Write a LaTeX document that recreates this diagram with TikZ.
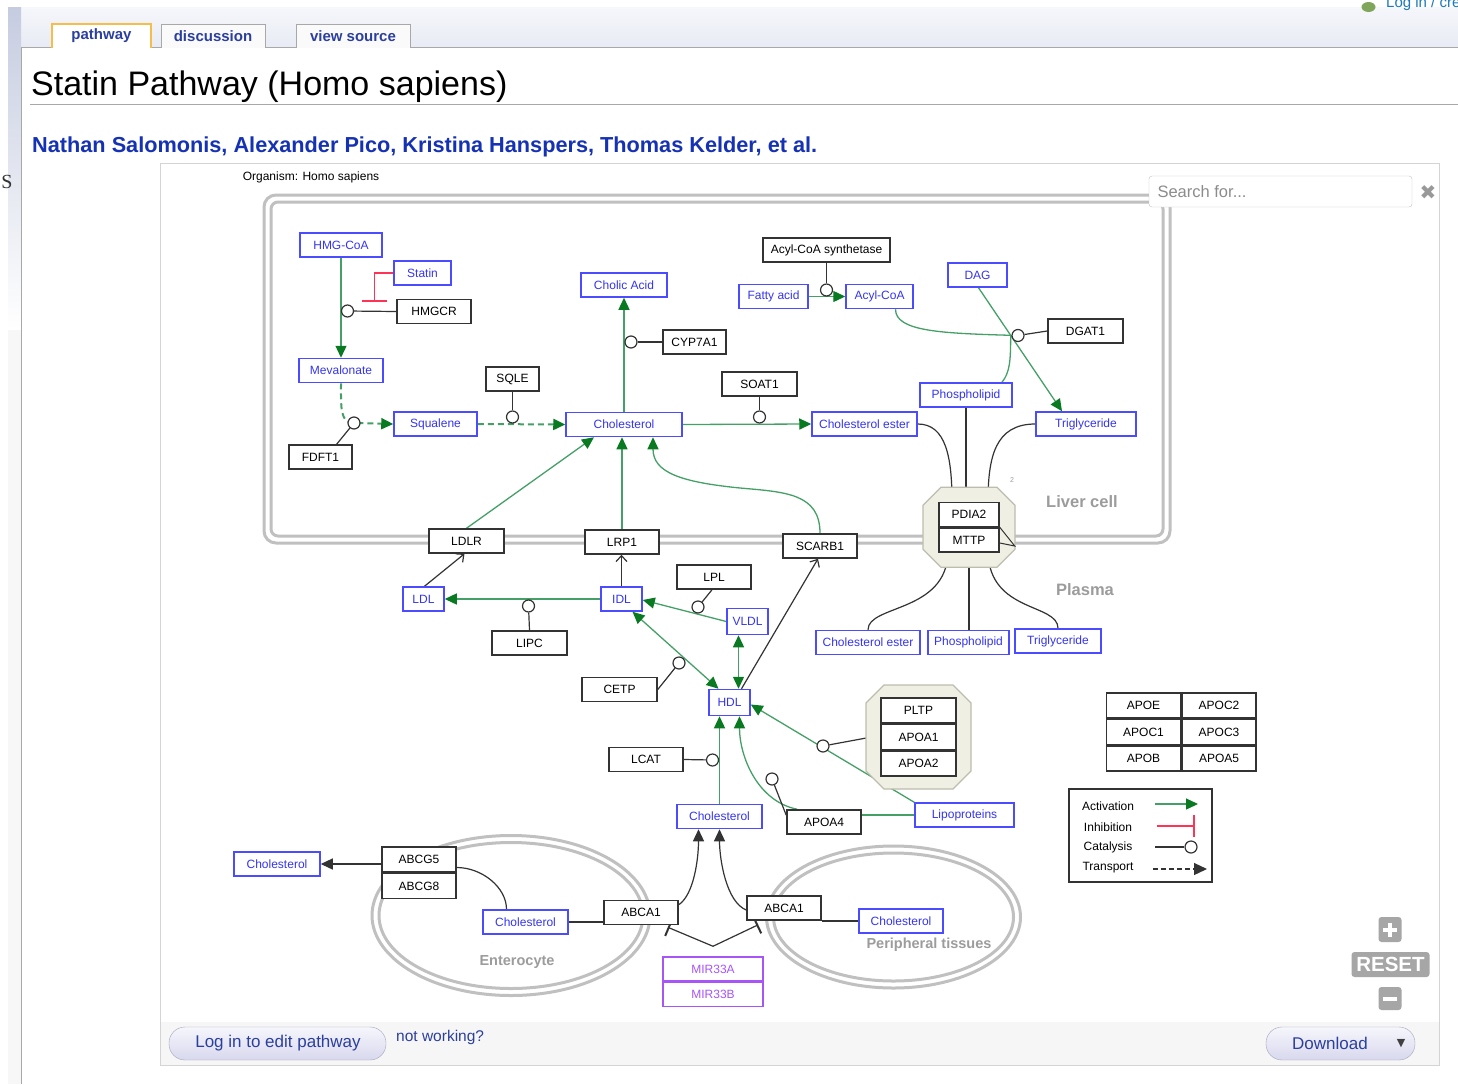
\documentclass[tikz,border=0pt]{standalone}
\usepackage{fontspec}
\setmainfont{Liberation Sans}
\newfontfamily\symfont{DejaVu Sans}
\newfontfamily\logofont{Liberation Serif}
\usetikzlibrary{arrows.meta,positioning,calc,backgrounds}
\definecolor{pwblue}{HTML}{4B4BFF}
\definecolor{pwtext}{HTML}{3535EE}
\definecolor{pwgene}{HTML}{333333}
\definecolor{pwline}{HTML}{45A067}
\definecolor{pwhead}{HTML}{0A7A22}
\definecolor{pwred}{HTML}{FF3355}
\definecolor{pwmir}{HTML}{A855F7}
\definecolor{pwcomp}{HTML}{C0C0C0}
\definecolor{pwcplx}{HTML}{EFEFE4}
\definecolor{pwcplxline}{HTML}{BDBDAE}
\definecolor{pwlabel}{HTML}{9C9C9C}
\definecolor{wikilink}{HTML}{2B3F9E}
\definecolor{wikiauth}{HTML}{1632B4}
\definecolor{wikiline}{HTML}{A8A8A8}
\definecolor{wikitab}{HTML}{F5BE4A}
\definecolor{wikitabbg}{HTML}{FAFAFA}
\definecolor{wikibar}{HTML}{E8EBF4}
\definecolor{wikibartop}{HTML}{F6F7FB}
\definecolor{wikiside}{HTML}{C6CCE0}
\definecolor{panelline}{HTML}{D4D4D4}
\definecolor{panelfoot}{HTML}{F6F6F6}
\definecolor{searchline}{HTML}{C4C4C4}
\definecolor{btngray}{HTML}{A6A6A6}
\definecolor{btnline}{HTML}{A4A4BC}
\definecolor{btntop}{HTML}{F6F6FC}
\definecolor{btnlav}{HTML}{D8D8EE}
\definecolor{iconcol}{HTML}{7FA65A}
\pgfdeclarelayer{edges}
\pgfdeclarelayer{cplxbg}
\pgfsetlayers{background,edges,cplxbg,main}
\newcommand\pwfont[1]{\fontsize{#1}{#1}\selectfont}
% octagon around a complex: half width, half height, chamfer
\newcommand\octa[3]{%
  \filldraw[cplx] (-#1+#3,-#2) -- (#1-#3,-#2) -- (#1,-#2+#3) -- (#1,#2-#3)
    -- (#1-#3,#2) -- (-#1+#3,#2) -- (-#1,#2-#3) -- (-#1,-#2+#3) -- cycle;}
\tikzset{
  met/.style={draw=pwblue, fill=white, line width=1.5pt, text=pwtext, font=\pwfont{12}, minimum height=24pt, inner sep=0pt},
  gene/.style={draw=pwgene, fill=white, line width=1.5pt, text=black, font=\pwfont{12}, minimum height=24pt, minimum width=74pt, inner sep=0pt},
  mirna/.style={draw=pwmir, fill=white, line width=1.5pt, text=pwmir, font=\pwfont{12}, minimum height=24pt, minimum width=100pt, inner sep=0pt},
  cat/.style={circle, draw=pwgene, fill=white, line width=1.2pt, minimum size=12pt, inner sep=0pt},
  cplx/.style={draw=pwcplxline, fill=pwcplx, line width=1.2pt},
  edge/.style={draw=pwline, line width=1.3pt},
  act/.style={edge, -{Triangle[length=12pt,width=11pt,color=pwhead]}},
  actb/.style={edge, {Triangle[length=12pt,width=11pt,color=pwhead]}-{Triangle[length=12pt,width=11pt,color=pwhead]}},
  trn/.style={act, line width=2pt, dash pattern=on 6pt off 4pt},
  mim/.style={draw=pwgene, line width=1.2pt},
  conv/.style={mim, -{Straight Barb[length=6pt,width=11pt]}},
  pt/.style={mim, -{Triangle[length=12pt,width=11pt]}},
  inh/.style={draw=pwred, line width=1.5pt, -{Bar[width=25pt,line width=2.5pt]}},
  mirinh/.style={mim, -{Bar[width=18pt,line width=2pt]}},
  comp/.style={draw=pwcomp, line width=3pt},
  clabel/.style={text=pwlabel, font=\bfseries\pwfont{16.5}},
  tab/.style={font=\bfseries\pwfont{15}, text=wikilink},
}

\begin{document}
\begin{tikzpicture}[x=1pt,y=-1pt]
\useasboundingbox (0,0) rectangle (1458,1084);

% page frame
\begin{pgfonlayer}{background}
  \fill[white] (0,0) rectangle (1458,1084);
  \shade[top color=wikibartop, bottom color=wikibar] (8,7) rectangle (1458,47);
  \shade[top color=wikiside, bottom color=white] (8,7) rectangle (21,330);
  \fill[black!3] (8,330) rectangle (21,1084);
  \fill[white] (21.5,47.5) rectangle (1458,1084);
  \draw[wikiline] (21,47.5) -- (1458,47.5);
  \draw[wikiline] (21.5,47.5) -- (21.5,1084);
  \fill[white] (52.5,24) rectangle (150.5,48.5);
  \draw[wikitab, line width=1.2pt] (52,47.5) |- (151,24) -- (151,47.5);
  \filldraw[fill=wikitabbg, draw=wikiline] (161,47.5) |- (265,24) -- (265,47.5);
  \filldraw[fill=wikitabbg, draw=wikiline] (296,47.5) |- (410,24) -- (410,47.5);
  \draw[wikiline] (30,104) -- (1458,104);
  \filldraw[fill=white, draw=panelline] (160,163.5) rectangle (1439.5,1065.5);
  \fill[panelfoot] (160.5,1022) rectangle (1439,1065);
  % compartments
  \draw[comp, rounded corners=12pt] (264,195) rectangle (1170,543);
  \draw[comp, rounded corners=7pt] (271,202) rectangle (1163,536);
  \draw[comp] (511,915.5) ellipse [x radius=139pt, y radius=80pt];
  \draw[comp] (511,915.5) ellipse [x radius=132pt, y radius=73pt];
  \draw[comp] (893.5,917) ellipse [x radius=127pt, y radius=71pt];
  \draw[comp] (893.5,917) ellipse [x radius=120pt, y radius=64pt];
\end{pgfonlayer}

\fill[iconcol] (1368.5,7) ellipse [x radius=7pt, y radius=5pt];
\node[anchor=base west, font=\pwfont{15}, text=wikilink!70!cyan, inner sep=0pt] (login-top) at (1386,8) {Log in / create account};
\node[font=\logofont\pwfont{20}, text=black!80] (logo-s) at (7,182) {S};
\node[tab] (tab-pw) at (101.5,36) {pathway};
\node[tab] (tab-disc) at (213,36) {discussion};
\node[tab] (tab-src) at (353,36) {view source};
\node[anchor=base west, font=\pwfont{34}, inner sep=0pt] (title) at (31,95) {Statin Pathway (Homo sapiens)};
\node[anchor=base west, font=\bfseries\pwfont{21.7}, text=wikiauth, inner sep=0pt] (authors) at (32,152)
  {Nathan Salomonis, Alexander Pico, Kristina Hanspers, Thomas Kelder, et al.};
\node[font=\pwfont{12}] (organism) at (311,177) {Organism: Homo sapiens};

\node[draw=searchline, fill=white, rounded corners=3pt, minimum width=263pt, minimum height=31pt, inner sep=0pt] (search) at (1280.5,191.5) {};
\node[anchor=west, font=\pwfont{16.5}, text=black!45] (search-txt) at (1154,192) {Search for...};
\node[font=\symfont\pwfont{20}, text=black!40] (search-x) at (1428,193) {✖};

% liver cell
\node[met, minimum width=82pt] (hmgcoa) at (341,245) {HMG-CoA};
\node[met, minimum width=57pt] (statin) at (422.5,273) {Statin};
\node[gene] (hmgcr) at (434,311.5) {HMGCR};
\node[met, minimum width=84pt] (meval) at (341,370.5) {Mevalonate};
\node[gene, minimum width=63pt] (fdft) at (320.5,457) {FDFT1};
\node[met, minimum width=83pt] (squal) at (435.5,424) {Squalene};
\node[gene, minimum width=53pt] (sqle) at (512.5,379) {SQLE};
\node[met, minimum width=116pt] (chol1) at (624,424.5) {Cholesterol};
\node[met, minimum width=86pt] (cholic) at (624,285) {Cholic Acid};
\node[gene, minimum width=63pt] (cyp) at (694.5,342) {CYP7A1};
\node[gene, minimum width=75pt] (soat) at (759.5,384) {SOAT1};
\node[gene, minimum width=127pt] (acs) at (826.5,250) {Acyl-CoA synthetase};
\node[met, minimum width=69pt] (fatty) at (773.5,296.5) {Fatty acid};
\node[met, minimum width=67pt] (acyl) at (879.5,296.5) {Acyl-CoA};
\node[met, minimum width=59pt] (dag) at (977.5,275) {DAG};
\node[gene, minimum width=75pt] (dgat) at (1085.5,331) {DGAT1};
\node[met, minimum width=92pt] (pl1) at (966,395) {Phospholipid};
\node[met, minimum width=105pt] (ce1) at (864.5,424) {Cholesterol ester};
\node[met, minimum width=100pt] (tg1) at (1086,424) {Triglyceride};
\node[gene, minimum width=60pt] (pdia) at (969,514.5) {PDIA2};
\node[gene, minimum width=60pt, below=0pt of pdia] (mttp) {MTTP};

% plasma
\node[met, minimum width=104pt] (ce2) at (868,642.5) {Cholesterol ester};
\node[met, minimum width=81pt] (pl2) at (968.5,642.5) {Phospholipid};
\node[met, minimum width=86pt] (tg2) at (1058,641) {Triglyceride};
\node[gene, minimum width=75pt] (ldlr) at (466.5,541) {LDLR};
\node[gene] (lrp) at (622,542) {LRP1};
\node[gene] (scarb) at (820,546) {SCARB1};
\node[met, minimum width=41pt] (ldl) at (423.5,599) {LDL};
\node[met, minimum width=41pt] (idl) at (621.5,599) {IDL};
\node[gene] (lpl) at (714,577) {LPL};
\node[gene, minimum width=75pt] (lipc) at (529.5,643) {LIPC};
\node[met, minimum width=41pt, minimum height=26pt] (vldl) at (747.5,621.5) {VLDL};
\node[gene, minimum width=75pt] (cetp) at (619.5,689.5) {CETP};
\node[met, minimum width=41pt, minimum height=26pt] (hdl) at (729.5,702.5) {HDL};
\node[gene] (lcat) at (646,759.5) {LCAT};
\node[gene, minimum width=75pt, minimum height=25pt] (pltp) at (918.5,710.5) {PLTP};
\node[gene, minimum width=75pt, minimum height=25pt, below=0pt of pltp] (apoa1) {APOA1};
\node[gene, minimum width=75pt, minimum height=25pt, below=0pt of apoa1] (apoa2) {APOA2};
\node[met, minimum width=85pt] (chol3) at (719.5,816.5) {Cholesterol};
\node[gene] (apoa4) at (824,822) {APOA4};
\node[met, minimum width=99pt] (lipo) at (964.5,815) {Lipoproteins};

% enterocyte and peripheral tissues
\node[met, minimum width=86pt] (chol0) at (277,864) {Cholesterol};
\node[gene, minimum height=25pt] (abcg5) at (419,859.5) {ABCG5};
\node[gene, minimum height=25pt, below=0pt of abcg5] (abcg8) {ABCG8};
\node[met, minimum width=85pt] (chol2) at (525.5,922) {Cholesterol};
\node[gene] (abcaa) at (641,912.5) {ABCA1};
\node[gene] (abcab) at (784,908) {ABCA1};
\node[met, minimum width=84pt] (chol4) at (901,921) {Cholesterol};
\node[mirna] (mira) at (713,969) {MIR33A};
\node[mirna, below=0pt of mira] (mirb) {MIR33B};

\node[clabel] (liver-lbl) at (1082,502) {Liver cell};
\node[clabel] (plasma-lbl) at (1085,590) {Plasma};
\node[clabel, font=\bfseries\pwfont{14.5}] (entero-lbl) at (517,962) {Enterocyte};
\node[clabel, font=\bfseries\pwfont{14.5}] (periph-lbl) at (929,945) {Peripheral tissues};
\node[text=pwlabel, font=\pwfont{7}] (liver-num) at (1012,480) {2};

% apolipoprotein table
\node[gene, minimum height=25pt] (apoe) at (1143.5,705.5) {APOE};
\node[gene, minimum height=25pt, right=0pt of apoe] (apoc2) {APOC2};
\node[gene, minimum height=25pt, below=0pt of apoe] (apoc1) {APOC1};
\node[gene, minimum height=25pt, right=0pt of apoc1] (apoc3) {APOC3};
\node[gene, minimum height=25pt, below=0pt of apoc1] (apob) {APOB};
\node[gene, minimum height=25pt, right=0pt of apob] (apoa5) {APOA5};

% catalysis anchors
\node[cat] (c-hmgcr) at (347.5,311) {};
\node[cat] (c-fdft) at (354,423) {};
\node[cat] (c-sqle) at (512.5,417) {};
\node[cat] (c-cyp) at (631,342) {};
\node[cat] (c-soat) at (759.5,417) {};
\node[cat] (c-acs) at (826.5,290) {};
\node[cat] (c-dgat) at (1018,335.5) {};
\node[cat] (c-lipc) at (528.5,606) {};
\node[cat] (c-lpl) at (698,607) {};
\node[cat] (c-cetp) at (679,663) {};
\node[cat] (c-lcat) at (712.5,760) {};
\node[cat] (c-pltp) at (823,746) {};
\node[cat] (c-apoa4) at (772,779) {};

\begin{pgfonlayer}{cplxbg}
  \begin{scope}[shift={(apoa1.center)}]\octa{52.5}{52}{18}\end{scope}
  \begin{scope}[shift={(pdia.south)}]\octa{46}{40}{18}\end{scope}
\end{pgfonlayer}

\coordinate (hmgcr-inh) at (374.5,302);
\coordinate (dag-out) at ($(dag.south)+(1,0)$);
\coordinate (tg-in) at ($(tg1.north)+(-24,0)$);
\coordinate (dgat-j) at ($(dag-out)!0.385!(tg-in)$);
\coordinate (scarb-via) at (740,488);
\coordinate (hdl-v) at ($(hdl.north)+(9,0)$);
\coordinate (pltp-in) at ($(apoa1.west)+(-14,1)$);
\coordinate (mir-j) at ($(mira.north)+(0,-10)$);
\coordinate (mir-l) at ($(abcaa.south east)+(-11,2)$);
\coordinate (mir-r) at ($(abcab.south west)+(12,4)$);

\begin{pgfonlayer}{edges}
  \draw[act] (hmgcoa.south) -- (meval.north);
  \draw[mim] (hmgcr.west) -- (c-hmgcr);
  \draw[inh] (statin.west) -| (hmgcr-inh);
  \draw[trn] (meval.south) .. controls +(0,25) and +(-14,0) .. (c-fdft.center) -- (squal.west);
  \draw[mim] ($(fdft.north)!0.5!(fdft.north east)$) -- (c-fdft);
  \draw[trn] (squal.east) -- (chol1.west);
  \draw[mim] (sqle.south) -- (c-sqle);
  \draw[act] (chol1.north) -- (cholic.south);
  \draw[mim] (cyp.west) -- (c-cyp);
  \draw[act] (chol1.east) -- (ce1.west);
  \draw[mim] (soat.south) -- (c-soat);
  \draw[act] (fatty.east) -- (acyl.west);
  \draw[mim] (acs.south) -- (c-acs);
  \draw[act] (dag-out) -- (tg-in);
  \draw[edge] ($(acyl.south)+(16,0)$) .. controls +(0,22) and +(-70,-2) .. (dgat-j);
  \draw[edge] ($(pl1.north)+(36,0)$) .. controls +(8,-10) and +(0,25) .. (dgat-j);
  \draw[mim] (dgat.west) -- (c-dgat);
  % MTTP loading
  \draw[mim] (ce1.east) .. controls +(28,0) and +(0,-45) .. ($(pdia.north)+(-17,0)$);
  \draw[mim] (pl1.south) -- (pl1.south |- pdia.north);
  \draw[mim] (tg1.west) .. controls +(-40,0) and +(0,-45) .. ($(pdia.north)+(19,0)$);
  \draw[mim] ($(mttp.south)+(-21,0)$) .. controls +(-2,60) and +(0,-25) .. (ce2.north);
  \draw[mim] (mttp.south) -- (mttp.south |- pl2.north);
  \draw[mim] ($(mttp.south)+(19,0)$) .. controls +(2,60) and +(0,-25) .. (tg2.north);
  % uptake into the liver
  \draw[act] (ldlr.north) -- ($(chol1.south)+(-30,0)$);
  \draw[act] (lrp.north) -- (lrp.north |- chol1.south);
  \draw[act] (scarb.north) .. controls +(0,-40) and +(45,4) .. (scarb-via)
    .. controls +(-60,-6) and +(0,35) .. ($(chol1.south)+(29,0)$);
  \draw[conv] ($(ldl.north)+(1,0)$) -- ($(ldlr.south)+(-2,0)$);
  \draw[conv] (idl.north) -- (idl.north |- lrp.south);
  \draw[conv] ($(hdl.north)+(12,0)$) -- ($(scarb.south)+(-2,0)$);
  % lipoprotein conversions
  \draw[act] (idl.west) -- (ldl.east);
  \draw[mim] (lipc.north) -- (c-lipc);
  \draw[act] (vldl.west) -- ($(idl.east)+(0,1)$);
  \draw[mim] ($(lpl.south)+(-2,0)$) -- (c-lpl);
  \draw[actb] ($(idl.south)+(11,0)$) -- ($(hdl.north)+(-11,0)$);
  \draw[mim] (cetp.east) -- (c-cetp);
  \draw[actb] (hdl-v) -- (hdl-v |- vldl.south);
  \draw[act] (chol3.north) -- (chol3.north |- hdl.south);
  \draw[mim] (lcat.east) -- (c-lcat);
  \draw[act] (lipo.north west) -- ($(hdl.east)+(0,2)$);
  \draw[mim] (pltp-in) -- (c-pltp);
  \draw[edge] (lipo.west) -- (lipo.west -| apoa4.east);
  \draw[act] ($(apoa4.north west)+(11,0)$) .. controls +(-40,-8) and +(0,40) .. ($(hdl.south)+(10,0)$);
  \draw[mim] ($(apoa4.north west)+(0,6)$) -- (c-apoa4);
  % cholesterol efflux
  \draw[pt] (abcg5.west |- chol0.east) -- (chol0.east);
  \draw[mim] ($(chol2.north)+(-19,0)$) .. controls +(0,-22) and +(25,0) .. ($(abcg5.east)+(0,8)$);
  \draw[mim] (chol2.east) -- (chol2.east -| abcaa.west);
  \draw[mim] (abcab.east |- chol4.west) -- (chol4.west);
  \draw[pt] ($(abcaa.north east)+(0,5)$) .. controls +(15,-10) and +(0,30) .. ($(chol3.south)+(-21,0)$);
  \draw[pt] ($(abcab.west)+(0,2)$) .. controls +(-20,-8) and +(0,30) .. (chol3.south);
  \draw[mirinh] (mir-j) -- (mir-l);
  \draw[mirinh] (mir-j) -- (mir-r);
\end{pgfonlayer}
\draw[mim, line width=1pt] (mttp.north east) -- ($(mttp.east)+(15,6)$) -- ($(mttp.east)+(0,3)$);

% legend
\node[draw=pwgene, line width=1.5pt, minimum width=143pt, minimum height=93pt] (legend) at (1140.5,835.5) {};
\node[font=\pwfont{12}] (lg-act) at (1108,806) {Activation};
\node[font=\pwfont{12}] (lg-inh) at (1108,827) {Inhibition};
\node[font=\pwfont{12}] (lg-cat) at (1108,847) {Catalysis};
\node[font=\pwfont{12}] (lg-trn) at (1108,868) {Transport};
\draw[act] (1155,804) -- (1198,804);
\draw[draw=pwred, line width=1.5pt, -{Bar[width=22pt,line width=2pt]}] (1157,826) -- (1195,826);
\node[cat] (lg-circ) at (1191,847) {};
\draw[mim] (1155,847) -- (lg-circ);
\draw[mim, dash pattern=on 5pt off 3pt, -{Triangle[length=13pt,width=12pt]}] (1153,869) -- (1207,869);

% viewer controls
\node[fill=btngray, rounded corners=3pt, minimum width=23pt, minimum height=25pt] (zoom-in) at (1390,929.5) {};
\draw[white, line width=4pt] ($(zoom-in)+(-7,0)$) -- ($(zoom-in)+(7,0)$) ($(zoom-in)+(0,-7)$) -- ($(zoom-in)+(0,7)$);
\node[fill=btngray, rounded corners=3pt, minimum width=78pt, minimum height=25pt, inner sep=0pt, text=white, font=\bfseries\pwfont{20.5}] (zoom-reset) at (1390.5,964.5) {RESET};
\node[fill=btngray, rounded corners=3pt, minimum width=23pt, minimum height=23pt] (zoom-out) at (1390,998.5) {};
\draw[white, line width=4pt] ($(zoom-out)+(-7,0)$) -- ($(zoom-out)+(7,0)$);
\node[draw=btnline, rounded corners=16pt, top color=btntop, bottom color=btnlav, minimum width=217pt, minimum height=33pt] (login) at (277.5,1043.5) {};
\node[font=\pwfont{17}, text=wikilink] (login-txt) at (278,1043.5) {Log in to edit pathway};
\node[anchor=west, font=\pwfont{15.5}, text=wikilink, inner sep=0pt] (notworking) at (396,1037) {not working?};
\node[draw=btnline, rounded corners=16pt, top color=btntop, bottom color=btnlav, minimum width=149pt, minimum height=33pt] (download) at (1340.5,1043.5) {};
\node[font=\pwfont{17}, text=wikilink] (download-txt) at (1330,1043.5) {Download};
\node[font=\symfont\pwfont{11}, text=black!75] (download-arr) at (1401,1043.5) {▼};
\end{tikzpicture}
\end{document}
